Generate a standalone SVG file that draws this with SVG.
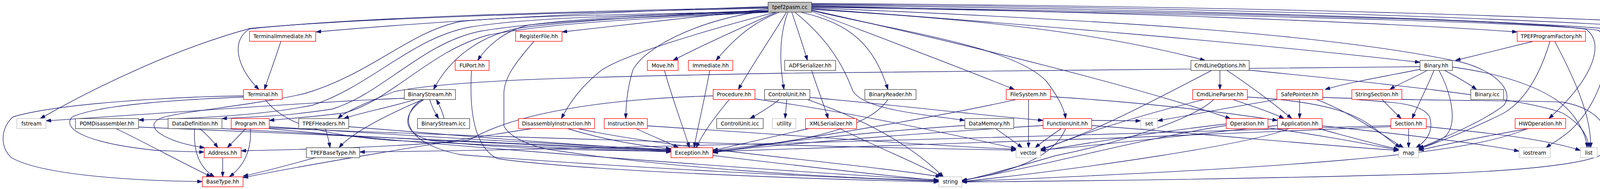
<svg xmlns="http://www.w3.org/2000/svg" width="4688" height="485" viewBox="0 0 4688 485">
<style>
.n rect{fill:#fff;stroke-width:1.33}
.red rect{stroke:#ff0000}
.blk rect{stroke:#404040}
.sys rect{stroke:#bfbfbf}
.root rect{fill:#bfbfbf;stroke:#404040}
.n text{font-family:"DejaVu Sans","Liberation Sans",sans-serif;font-size:13.33px;fill:#000;text-anchor:middle}
#edges path{fill:none;stroke:#191970;stroke-width:1.33;marker-end:url(#arr)}
</style>
<defs>
<marker id="arr" markerUnits="userSpaceOnUse" markerWidth="13" markerHeight="9" viewBox="0 0 13 9" refX="13" refY="4.5" orient="auto">
<path d="M0,0 L13,4.5 L0,9 Z" fill="#191970" stroke="#191970" stroke-width="1"/>
</marker>
</defs>
<rect x="0" y="0" width="4688" height="485" fill="#fff"/>
<g id="edges">
<path d="M1966,17 C1500,32 1100,56 809,82"/>
<path d="M1966,19 C1400,30 900,46 640,74 C592,100 602,170 663,229.7"/>
<path d="M1966,21 C1400,33 900,48 640,73 C450,125 250,220 103,304.3"/>
<path d="M1966,30 C1600,40 1350,45 1200,70 C1050,100 950,220 800,270 C650,300 450,305 354.7,308"/>
<path d="M1967,31 C1600,45 1380,55 1230,80 C1080,110 980,240 850,280 C720,300 640,300 568.3,304.3"/>
<path d="M1968,31.4 C1600,50 1400,60 1250,90 C1100,130 1000,260 880,290 C800,300 740,304 689.3,309"/>
<path d="M1966,29 C1600,38 1330,40 1180,55 C1050,80 950,190 780,240 C650,270 470,285 415,302 C360,322 420,365 524,379"/>
<path d="M1966,28 C1700,38 1450,55 1330,72 C1230,90 1150,150 1110,229.7"/>
<path d="M1966,27 C1700,35 1450,50 1350,65 C1290,80 1245,120 1223,155"/>
<path d="M1966,23 C1800,40 1600,65 1438.7,82"/>
<path d="M1985,31.4 C1800,80 1600,140 1540,180 C1490,220 1460,260 1437,304.3"/>
<path d="M1966,28 C1800,45 1650,120 1620,180 C1605,230 1602,270 1602,304.3"/>
<path d="M1988,31.4 C1900,70 1800,115 1723,155"/>
<path d="M1995,31.4 C1920,60 1870,110 1833,155"/>
<path d="M2013,31.4 C1985,80 1930,160 1890,229.7"/>
<path d="M2017,31.4 C1995,90 1995,160 2007,229.7"/>
<path d="M2027,31.4 C2040,70 2055,115 2067,155"/>
<path d="M2035,31.4 C2120,100 2160,170 2183,233 C2210,280 2350,292 2470,309"/>
<path d="M2050,31.4 C2180,60 2240,120 2273,229.7"/>
<path d="M2077.7,29 C2250,95 2450,170 2597,229.7"/>
<path d="M2077.7,27 C2300,80 2600,120 2680,210 C2710,250 2725,280 2728,304.3"/>
<path d="M2077.7,24 C2500,50 2800,80 3085,155"/>
<path d="M2077.7,26 C2500,120 2900,220 3150,304.3"/>
<path d="M2077.7,22 C2600,60 3200,110 3635.3,160"/>
<path d="M2077.7,15 C2800,30 3500,55 3884,82"/>
<path d="M2077.7,13 C3000,24 3900,50 4210,82"/>
<path d="M2077.7,11 C3200,19 4100,55 4397.3,82"/>
<path d="M2077.7,9 C3300,16 4300,50 4580.7,82"/>
<path d="M2077.7,17 C3000,30 3900,50 4060,75 C4110,110 4080,200 3965,304.3"/>
<path d="M2077.7,18 C3000,35 3950,55 4093,78 C4130,120 4110,250 4020,335 C3990,360 3970,370 3958,379"/>
<path d="M2077.7,20 C2800,50 3400,85 3743,160 C3820,180 3880,230 3850,270 C3800,310 3700,352 3631.3,381"/>
<path d="M719,106 C705,150 690,190 677,229.7"/>
<path d="M623.3,246 C450,248 150,265 33,300 C0,330 0,380 30,405 C100,445 300,463 518,466"/>
<path d="M623.3,249 C450,256 250,270 185,300 C160,325 200,365 400,386 C450,388 490,390 522.7,390"/>
<path d="M679,255.4 C720,310 800,345 1000,360 C1300,375 1600,385 1717.7,390"/>
<path d="M1035.3,252 C800,262 500,285 117.7,310"/>
<path d="M297,330 C380,370 470,420 541,453.7"/>
<path d="M354.7,326 C800,345 1400,370 1717.7,386"/>
<path d="M511,330 C530,345 545,362 558,379"/>
<path d="M498,330 C495,390 510,430 549,453.7"/>
<path d="M568.3,330 C900,350 1400,375 1717.7,388"/>
<path d="M629,330 C615,345 598,362 582,379"/>
<path d="M641,330 C645,390 620,430 587,453.7"/>
<path d="M689.3,325 C1000,345 1400,370 1717.7,384"/>
<path d="M689.3,328 C1200,350 2200,380 2601.3,385"/>
<path d="M689.3,330 C1200,380 2000,440 2403.3,462"/>
<path d="M570,404.7 L570,453.7"/>
<path d="M833,330 C838,345 842,362 845,379"/>
<path d="M807,404.7 C750,420 680,440 622.3,452"/>
<path d="M1083,255.4 C1000,290 900,340 868,379"/>
<path d="M1100,255.4 C1105,272 1114,290 1123,304.3"/>
<path d="M1137,304.3 C1132,285 1125,270 1117,255.4"/>
<path d="M1063,255.4 C1000,275 920,290 880,304.3"/>
<path d="M1085,255.4 C1030,290 1025,340 1100,360 C1300,385 1600,387 1717.7,388"/>
<path d="M1080,255.4 C1015,300 1040,370 1180,397 C1600,430 2100,455 2403.3,465"/>
<path d="M3635.3,171 C3300,175 2800,183 2000,188 C1500,197 1150,205 1010,235 C930,265 880,290 865,304.3"/>
<path d="M1207,180.7 C1200,300 1220,380 1273,407 C1500,440 2100,460 2403.3,467"/>
<path d="M1367,106 C1320,160 1290,200 1290,240 L1290,323 C1300,345 1340,370 1403,383 C1700,430 2100,455 2403.3,464"/>
<path d="M1362,330 C1100,370 800,420 622.3,456"/>
<path d="M1453,330 C1550,360 1650,375 1717.7,382"/>
<path d="M1480,330 C1700,380 2200,420 2408,453.7"/>
<path d="M1629,330 C1670,350 1710,365 1737,379"/>
<path d="M1657.3,323 C2000,345 2400,375 2601.3,383"/>
<path d="M1701,180.7 C1720,250 1750,330 1765,379"/>
<path d="M1817,180.7 C1805,250 1785,330 1777,379"/>
<path d="M1867,255.4 C1830,300 1800,340 1782,379"/>
<path d="M1825.7,246 C1500,255 1300,300 1200,360 C1000,378 800,383 617.3,387"/>
<path d="M1932.7,254 C2200,290 2500,360 2601.3,381"/>
<path d="M1995,255.4 C1970,275 1945,290 1920,304.3"/>
<path d="M2014,255.4 C2013,272 2011,288 2010,304.3"/>
<path d="M2073.3,250 C2300,270 2500,295 2670.3,309"/>
<path d="M2067,255.4 C2250,320 2350,390 2415,453.7"/>
<path d="M2070,330 C1980,350 1900,370 1824.7,386"/>
<path d="M2150,330 C2250,380 2350,420 2412,453.7"/>
<path d="M2078,180.7 C2090,220 2110,270 2120,304.3"/>
<path d="M2273,255.4 C2230,320 2100,360 1824.7,389"/>
<path d="M2633,255.4 L2633,379"/>
<path d="M2602,255.4 C2400,300 2100,350 1824.7,392"/>
<path d="M2689.3,248 C2850,258 3050,275 3270.3,309"/>
<path d="M2549,330 C2570,345 2595,362 2617,379"/>
<path d="M2470,322 C2200,340 1950,370 1824.7,387"/>
<path d="M2717,330 C2695,345 2670,362 2650,379"/>
<path d="M2728,330 C2700,400 2600,440 2462.3,463"/>
<path d="M2794.7,309 C2840,309 2880,310 2920.3,310"/>
<path d="M2671,322 C2300,345 1950,375 1824.7,390"/>
<path d="M2794.7,322 C3100,345 3400,375 3580.7,386"/>
<path d="M3123,180.7 L3123,229.7"/>
<path d="M3141,180.7 C3200,220 3260,265 3307,304.3"/>
<path d="M3198,180 C3500,210 3900,250 4000,290 C4050,320 4065,350 4068,379"/>
<path d="M3102,180.7 C2950,260 2800,340 2664,383"/>
<path d="M3156,255.4 C3200,270 3260,290 3287,304.3"/>
<path d="M3082,255.4 C2900,300 2750,350 2664,386"/>
<path d="M3107,255.4 C3050,310 2850,370 2700,400 C2600,430 2500,455 2462.3,465"/>
<path d="M3193.3,249 C3420,262 3480,300 3520,330 C3545,350 3565,365 3584,379"/>
<path d="M3327,255.4 L3327,304.3"/>
<path d="M3270,255.4 C3150,275 3050,295 2963.3,310"/>
<path d="M3370,255.4 C3450,285 3530,340 3593,379"/>
<path d="M3386,250 C3600,258 3900,258 4000,262 C4100,280 4130,340 4110,390 C4080,420 3900,437 3700,445 C3200,460 2700,465 2462.3,467"/>
<path d="M3538,255.4 C3555,272 3572,290 3587,304.3"/>
<path d="M3470,255.4 C3550,262 3640,262 3660,300 C3670,335 3655,360 3625,379"/>
<path d="M3671,180.7 C3655,220 3630,270 3615,304.3"/>
<path d="M3653,180.7 C3620,200 3580,215 3558,229.7"/>
<path d="M3698,180.7 C3725,195 3760,215 3780,229.7"/>
<path d="M3684,180.7 C3720,250 3730,320 3700,350 C3680,365 3650,375 3631.3,380"/>
<path d="M3635.3,178 C3550,195 3450,212 3392,229.7"/>
<path d="M3718,172 C3850,190 3980,230 4030,300 C4055,335 4062,360 4063,379"/>
<path d="M3925,106 C3850,125 3780,142 3726,155"/>
<path d="M3968,106 C3940,200 3900,260 3850,290 C3750,340 3680,365 3631.3,383"/>
<path d="M3980,106 C4030,200 4075,300 4072,379"/>
<path d="M3606,330 L3606,379"/>
<path d="M3651.3,325 C3800,340 3950,355 4046,386"/>
<path d="M3560.7,322 C3000,340 1500,385 920.7,390"/>
<path d="M3560.7,325 C3000,350 2200,380 1824.7,389"/>
<path d="M3246,328 C3400,350 3500,370 3580.7,385"/>
<path d="M3139.3,322 C2900,360 2700,420 2462.3,463"/>
<path d="M3139.3,318 C2950,340 2800,365 2664,387"/>
<path d="M3384.7,323 C3600,345 3800,370 3889,388"/>
<path d="M3300,330 C3200,370 2800,430 2462.3,466"/>
<path d="M3375,330 C3450,350 3520,370 3580.7,383"/>
<path d="M3270.3,322 C3050,345 2850,370 2664,385"/>
<path d="M3913,330 C3800,350 3700,370 3631.3,386"/>
<path d="M3910,330 C3750,400 3300,430 2462.3,466"/>
<path d="M1824.7,399 C2000,420 2250,450 2403.3,463"/>
<path d="M892.7,325 C1200,350 1500,375 1717.7,385"/>
</g>
<g id="n-tpef2pasm" class="n root"><rect x="1966.3" y="5.7" width="111.4" height="25.7"/><text x="2022" y="23.2">tpef2pasm.cc</text></g>
<g id="n-TerminalImmediate" class="n red"><rect x="638.7" y="80.3" width="169.6" height="25.7"/><text x="723.5" y="97.8">TerminalImmediate.hh</text></g>
<g id="n-RegisterFile" class="n red"><rect x="1320" y="80.3" width="118.7" height="25.7"/><text x="1379.3" y="97.8">RegisterFile.hh</text></g>
<g id="n-TPEFProgramFactory" class="n red"><rect x="3884" y="80.3" width="174.7" height="25.7"/><text x="3971.3" y="97.8">TPEFProgramFactory.hh</text></g>
<g id="n-CompilerWarnings" class="n blk"><rect x="4210" y="80.3" width="162.7" height="25.7"/><text x="4291.3" y="97.8">CompilerWarnings.hh</text></g>
<g id="n-UniversalMachine" class="n red"><rect x="4397.3" y="80.3" width="158.7" height="25.7"/><text x="4476.7" y="97.8">UniversalMachine.hh</text></g>
<g id="n-tce_config" class="n sys"><rect x="4580.7" y="80.3" width="101.6" height="25.7"/><text x="4631.5" y="97.8">tce_config.h</text></g>
<g id="n-FUPort" class="n red"><rect x="1165.3" y="155" width="86.7" height="25.7"/><text x="1208.7" y="172.5">FUPort.hh</text></g>
<g id="n-Move" class="n red"><rect x="1657.3" y="155" width="78.7" height="25.7"/><text x="1696.7" y="172.5">Move.hh</text></g>
<g id="n-Immediate" class="n red"><rect x="1762.3" y="155" width="113.7" height="25.7"/><text x="1819.2" y="172.5">Immediate.hh</text></g>
<g id="n-ADFSerializer" class="n blk"><rect x="2008.7" y="155" width="130.6" height="25.7"/><text x="2074" y="172.5">ADFSerializer.hh</text></g>
<g id="n-CmdLineOptions" class="n blk"><rect x="3048.7" y="155" width="149.3" height="25.7"/><text x="3123.3" y="172.5">CmdLineOptions.hh</text></g>
<g id="n-Binary" class="n blk"><rect x="3635.3" y="155" width="82.7" height="25.7"/><text x="3676.7" y="172.5">Binary.hh</text></g>
<g id="n-Terminal" class="n red"><rect x="623.3" y="229.7" width="99" height="25.7"/><text x="672.8" y="247.2">Terminal.hh</text></g>
<g id="n-BinaryStream" class="n blk"><rect x="1035.3" y="229.7" width="130.7" height="25.7"/><text x="1100.7" y="247.2">BinaryStream.hh</text></g>
<g id="n-Procedure" class="n red"><rect x="1825.7" y="229.7" width="107" height="25.7"/><text x="1879.2" y="247.2">Procedure.hh</text></g>
<g id="n-ControlUnit" class="n blk"><rect x="1957.3" y="229.7" width="116" height="25.7"/><text x="2015.3" y="247.2">ControlUnit.hh</text></g>
<g id="n-BinaryReader" class="n blk"><rect x="2214" y="229.7" width="131" height="25.7"/><text x="2279.5" y="247.2">BinaryReader.hh</text></g>
<g id="n-FileSystem" class="n red"><rect x="2576" y="229.7" width="113.3" height="25.7"/><text x="2632.7" y="247.2">FileSystem.hh</text></g>
<g id="n-CmdLineParser" class="n red"><rect x="3053.3" y="229.7" width="140" height="25.7"/><text x="3123.3" y="247.2">CmdLineParser.hh</text></g>
<g id="n-SafePointer" class="n red"><rect x="3268.7" y="229.7" width="117.3" height="25.7"/><text x="3327.3" y="247.2">SafePointer.hh</text></g>
<g id="n-StringSection" class="n red"><rect x="3460.7" y="229.7" width="128" height="25.7"/><text x="3524.7" y="247.2">StringSection.hh</text></g>
<g id="n-BinaryIcc" class="n blk"><rect x="3765.3" y="229.7" width="84" height="25.7"/><text x="3807.3" y="247.2">Binary.icc</text></g>
<g id="n-fstream" class="n sys"><rect x="43.3" y="304.3" width="74.4" height="25.7"/><text x="80.5" y="321.8">fstream</text></g>
<g id="n-POMDisassembler" class="n blk"><rect x="193.3" y="304.3" width="161.4" height="25.7"/><text x="274" y="321.8">POMDisassembler.hh</text></g>
<g id="n-DataDefinition" class="n blk"><rect x="430.3" y="304.3" width="138" height="25.7"/><text x="499.3" y="321.8">DataDefinition.hh</text></g>
<g id="n-Program" class="n red"><rect x="592" y="304.3" width="97.3" height="25.7"/><text x="640.7" y="321.8">Program.hh</text></g>
<g id="n-TPEFHeaders" class="n blk"><rect x="764.7" y="304.3" width="128" height="25.7"/><text x="828.7" y="321.8">TPEFHeaders.hh</text></g>
<g id="n-BinaryStreamIcc" class="n blk"><rect x="1068.7" y="304.3" width="133.6" height="25.7"/><text x="1135.5" y="321.8">BinaryStream.icc</text></g>
<g id="n-DisassemblyInstruction" class="n red"><rect x="1327.3" y="304.3" width="194.7" height="25.7"/><text x="1424.7" y="321.8">DisassemblyInstruction.hh</text></g>
<g id="n-Instruction" class="n red"><rect x="1546.7" y="304.3" width="110.6" height="25.7"/><text x="1602" y="321.8">Instruction.hh</text></g>
<g id="n-ControlUnitIcc" class="n blk"><rect x="1834.7" y="304.3" width="119" height="25.7"/><text x="1894.2" y="321.8">ControlUnit.icc</text></g>
<g id="n-utility" class="n sys"><rect x="1977.3" y="304.3" width="60" height="25.7"/><text x="2007.3" y="321.8">utility</text></g>
<g id="n-XMLSerializer" class="n red"><rect x="2062" y="304.3" width="130.7" height="25.7"/><text x="2127.3" y="321.8">XMLSerializer.hh</text></g>
<g id="n-DataMemory" class="n blk"><rect x="2470" y="304.3" width="125.3" height="25.7"/><text x="2532.7" y="321.8">DataMemory.hh</text></g>
<g id="n-FunctionUnit" class="n red"><rect x="2670.3" y="304.3" width="124.4" height="25.7"/><text x="2732.5" y="321.8">FunctionUnit.hh</text></g>
<g id="n-set" class="n sys"><rect x="2920.3" y="304.3" width="43" height="25.7"/><text x="2941.8" y="321.8">set</text></g>
<g id="n-Operation" class="n red"><rect x="3139.3" y="304.3" width="106.7" height="25.7"/><text x="3192.7" y="321.8">Operation.hh</text></g>
<g id="n-Application" class="n red"><rect x="3270.3" y="304.3" width="114.4" height="25.7"/><text x="3327.5" y="321.8">Application.hh</text></g>
<g id="n-Section" class="n red"><rect x="3560.7" y="304.3" width="90.6" height="25.7"/><text x="3606" y="321.8">Section.hh</text></g>
<g id="n-HWOperation" class="n red"><rect x="3878.7" y="304.3" width="129.3" height="25.7"/><text x="3943.3" y="321.8">HWOperation.hh</text></g>
<g id="n-Address" class="n red"><rect x="522.7" y="379" width="94.6" height="25.7"/><text x="570" y="396.5">Address.hh</text></g>
<g id="n-TPEFBaseType" class="n blk"><rect x="784.3" y="379" width="136.4" height="25.7"/><text x="852.5" y="396.5">TPEFBaseType.hh</text></g>
<g id="n-Exception" class="n red"><rect x="1717.7" y="379" width="107" height="25.7"/><text x="1771.2" y="396.5">Exception.hh</text></g>
<g id="n-vector" class="n sys"><rect x="2601.3" y="379" width="62.7" height="25.7"/><text x="2632.7" y="396.5">vector</text></g>
<g id="n-map" class="n sys"><rect x="3580.7" y="379" width="50.6" height="25.7"/><text x="3606" y="396.5">map</text></g>
<g id="n-iostream" class="n sys"><rect x="3889" y="379" width="79.7" height="25.7"/><text x="3928.8" y="396.5">iostream</text></g>
<g id="n-list" class="n sys"><rect x="4046" y="379" width="42.7" height="25.7"/><text x="4067.3" y="396.5">list</text></g>
<g id="n-BaseType" class="n red"><rect x="518" y="453.7" width="104.3" height="25.7"/><text x="570.2" y="471.2">BaseType.hh</text></g>
<g id="n-string" class="n sys"><rect x="2403.3" y="453.7" width="59" height="25.7"/><text x="2432.8" y="471.2">string</text></g>
</svg>
